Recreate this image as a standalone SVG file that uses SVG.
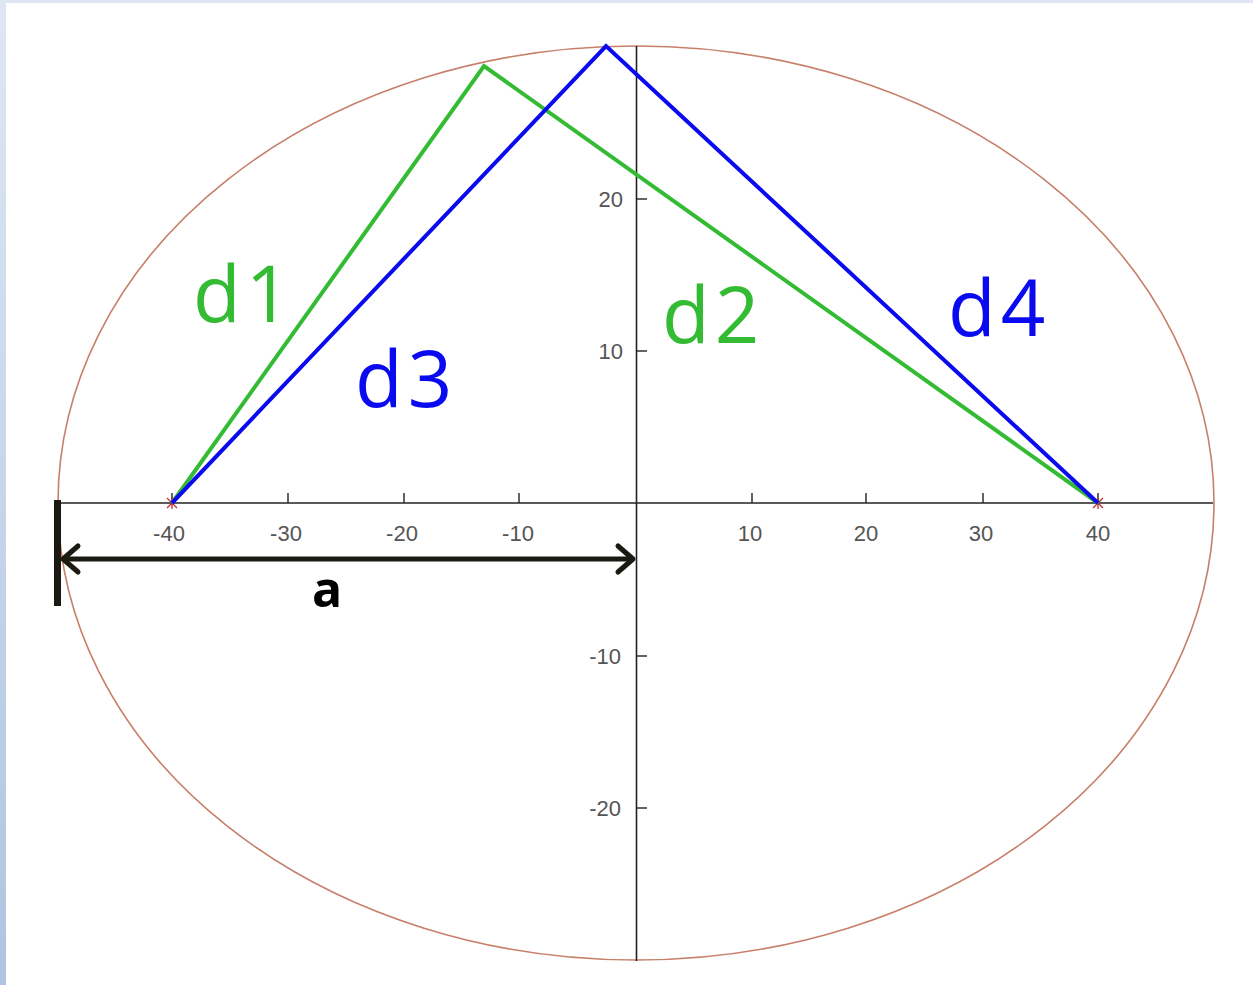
<svg xmlns="http://www.w3.org/2000/svg" width="1253" height="985" viewBox="0 0 1253 985">
<defs>
<linearGradient id="side" x1="0" y1="0" x2="0" y2="1"><stop offset="0" stop-color="#dfe7f3"/><stop offset="1" stop-color="#afc4e2"/></linearGradient>
<style>
.ax{stroke:#222;stroke-width:1.6;fill:none}
.tk{stroke:#222;stroke-width:1.4}
.tl{font-family:"Liberation Sans",Arial,sans-serif;font-size:22px;fill:#555}
.g{stroke:#33bb33;stroke-width:4;fill:none;stroke-linejoin:miter}
.b{stroke:#0a0af0;stroke-width:4;fill:none;stroke-linejoin:miter}
.lg{font-family:"Open Sans","Liberation Sans",sans-serif;font-size:78px;letter-spacing:5px;fill:#33bb33}
.lb{font-family:"Open Sans","Liberation Sans",sans-serif;font-size:78px;letter-spacing:5px;fill:#0a0af0}
.foc{stroke:#c03030;stroke-width:1.3}
.arr{stroke:#1a1a12;stroke-width:5;fill:none;stroke-linecap:round;stroke-linejoin:round}
</style>
</defs>
<rect width="1253" height="985" fill="#ffffff"/>
<rect x="0" y="0" width="1253" height="3" fill="#dde6f2"/>
<rect x="0" y="0" width="6" height="985" fill="url(#side)"/>

<g id="ellipse">
<ellipse cx="636" cy="503" rx="578" ry="457" fill="none" stroke="#c77f6a" stroke-width="1.6"/>
</g>

<g id="axes">
<line class="ax" x1="57" y1="503" x2="1213" y2="503"/>
<line class="ax" x1="636.5" y1="46" x2="636.5" y2="961"/>
<g class="tk">
<line x1="172" y1="493" x2="172" y2="503"/>
<line x1="288" y1="493" x2="288" y2="503"/>
<line x1="404" y1="493" x2="404" y2="503"/>
<line x1="519" y1="493" x2="519" y2="503"/>
<line x1="752" y1="493" x2="752" y2="503"/>
<line x1="866" y1="493" x2="866" y2="503"/>
<line x1="983" y1="493" x2="983" y2="503"/>
<line x1="1098" y1="493" x2="1098" y2="503"/>
<line x1="636" y1="199" x2="647" y2="199"/>
<line x1="636" y1="351" x2="647" y2="351"/>
<line x1="636" y1="656" x2="647" y2="656"/>
<line x1="636" y1="808" x2="647" y2="808"/>
</g>
<g class="tl" text-anchor="middle">
<text x="169" y="541">-40</text>
<text x="286" y="541">-30</text>
<text x="402" y="541">-20</text>
<text x="518" y="541">-10</text>
<text x="750" y="541">10</text>
<text x="866" y="541">20</text>
<text x="981" y="541">30</text>
<text x="1098" y="541">40</text>
</g>
<g class="tl" text-anchor="end">
<text x="623" y="207">20</text>
<text x="623" y="359">10</text>
<text x="621" y="664">-10</text>
<text x="621" y="816">-20</text>
</g>
</g>

<g id="foci">
<path class="foc" d="M167,498 L177,508 M177,498 L167,508 M172,497 L172,509"/>
<path class="foc" d="M1093,498 L1103,508 M1103,498 L1093,508 M1098,497 L1098,509"/>
</g>

<g id="connectors">
<polyline id="green-path" class="g" points="172,503 484,66 1098,503"/>
<polyline id="blue-path" class="b" points="172,503 606,46 1098,503"/>
<line id="a-bar" x1="57.5" y1="500" x2="57.5" y2="606" stroke="#1a1a12" stroke-width="7"/>
<line id="a-arrow" x1="63" y1="559" x2="631" y2="559" stroke="#1a1a12" stroke-width="5"/>
<path class="arr" d="M78,546 L63,559 L78,572"/>
<path class="arr" d="M618,546 L633,559 L618,572"/>
</g>

<g id="labels">
<text class="lg" x="193" y="322">d1</text>
<text class="lg" x="662" y="343">d2</text>
<text class="lb" x="355" y="407">d3</text>
<text class="lb" x="948" y="336">d4</text>
<text x="312" y="607" font-family="'Open Sans','Liberation Sans',sans-serif" font-weight="bold" font-size="50" fill="#000">a</text>
</g>
</svg>
